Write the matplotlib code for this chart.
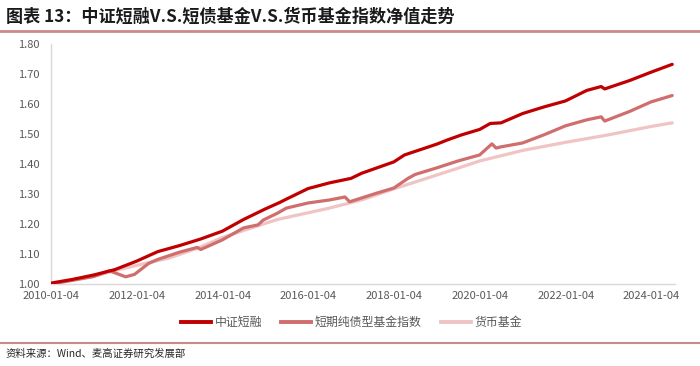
import matplotlib
matplotlib.use("Agg")
import matplotlib.pyplot as plt
import pandas as pd
from matplotlib.lines import Line2D

plt.rcParams['font.family'] = ['Noto Sans CJK SC', 'DejaVu Sans']

# 中证短融
dates_a = ["2010-01-04", "2010-07-01", "2011-01-01", "2011-07-01", "2012-01-01", "2012-07-01",
           "2013-01-01", "2013-07-01", "2014-01-01", "2014-07-01", "2015-01-01", "2015-05-01",
           "2015-07-01", "2016-01-01", "2016-07-01", "2017-01-01", "2017-04-01", "2018-01-01",
           "2018-04-01", "2019-01-01", "2019-04-01", "2019-08-01", "2020-01-01", "2020-04-01",
           "2020-07-01", "2021-01-01", "2021-07-01", "2022-01-01", "2022-07-01", "2022-11-01",
           "2022-12-01", "2023-07-01", "2024-01-01", "2024-06-28"]
vals_a = [1.003, 1.015, 1.030, 1.048, 1.076, 1.108,
          1.128, 1.150, 1.176, 1.215, 1.250, 1.271,
          1.283, 1.318, 1.337, 1.352, 1.369, 1.407,
          1.430, 1.466, 1.480, 1.497, 1.515, 1.535,
          1.537, 1.568, 1.590, 1.610, 1.645, 1.658,
          1.650, 1.678, 1.706, 1.732]

# 短期纯债型基金指数
dates_b = ["2010-01-04", "2010-07-01", "2011-01-01", "2011-05-15", "2011-10-01", "2011-12-15",
           "2012-04-15", "2012-07-01", "2013-01-01", "2013-06-01", "2013-07-01", "2014-01-01",
           "2014-07-01", "2014-11-01", "2014-12-15", "2015-04-15", "2015-07-01", "2016-01-01",
           "2016-07-01", "2016-11-10", "2016-12-20", "2017-08-01", "2018-01-01", "2018-05-01",
           "2018-07-01", "2019-01-01", "2019-07-01", "2020-01-01", "2020-04-15", "2020-05-20",
           "2020-07-01", "2021-01-01", "2021-07-01", "2022-01-01", "2022-07-01", "2022-11-01",
           "2022-12-01", "2023-07-01", "2024-01-01", "2024-06-28"]
vals_b = [1.000, 1.012, 1.025, 1.044, 1.024, 1.032,
          1.069, 1.082, 1.106, 1.122, 1.115, 1.147,
          1.187, 1.197, 1.213, 1.236, 1.253, 1.270,
          1.280, 1.290, 1.274, 1.302, 1.320, 1.352,
          1.365, 1.387, 1.410, 1.430, 1.467, 1.453,
          1.457, 1.470, 1.497, 1.527, 1.547, 1.557,
          1.543, 1.575, 1.607, 1.628]

# 货币基金
dates_c = ["2010-01-04", "2011-01-01", "2011-07-01", "2012-01-01", "2012-10-01", "2013-06-15",
           "2014-01-01", "2015-01-01", "2015-04-15", "2016-06-20", "2017-04-01", "2018-01-01",
           "2019-07-01", "2020-01-01", "2021-01-01", "2022-01-01", "2023-01-01", "2024-01-01",
           "2024-06-28"]
vals_c = [1.003, 1.025, 1.045, 1.062, 1.086, 1.121,
          1.155, 1.202, 1.215, 1.252, 1.280, 1.317,
          1.386, 1.410, 1.445, 1.472, 1.497, 1.525,
          1.537]

tick_labels = ["2010-01-04", "2012-01-04", "2014-01-04", "2016-01-04",
               "2018-01-04", "2020-01-04", "2022-01-04", "2024-01-04"]
names = ["中证短融", "短期纯债型基金指数", "货币基金"]
colors = ["#C00000", "#D06E6E", "#F0C4C4"]

fig = plt.figure(figsize=(7.0, 3.66), dpi=100)
ax = fig.add_axes([0.073, 0.224, 0.891, 0.656])

ax.plot(pd.to_datetime(dates_c), vals_c, color=colors[2], lw=2.3, solid_capstyle='round', zorder=2)
ax.plot(pd.to_datetime(dates_b), vals_b, color=colors[1], lw=2.3, solid_capstyle='round', zorder=3)
ax.plot(pd.to_datetime(dates_a), vals_a, color=colors[0], lw=2.3, solid_capstyle='round', zorder=4)

ax.set_ylim(1.0, 1.8)
ax.set_yticks([1.0 + 0.1 * i for i in range(9)])
ax.set_yticklabels([f"{1.0 + 0.1 * i:.2f}" for i in range(9)])
ax.set_xlim(pd.Timestamp("2010-01-04"), pd.Timestamp("2024-07-20"))
ax.set_xticks(pd.to_datetime(tick_labels))
ax.set_xticklabels(tick_labels)

for s in ["top", "right"]:
    ax.spines[s].set_visible(False)
for s in ["left", "bottom"]:
    ax.spines[s].set_color("#D9D9D9")
    ax.spines[s].set_linewidth(1.0)
ax.tick_params(axis='both', length=0, labelsize=8, colors="#595959")
ax.tick_params(axis='y', pad=8)
ax.tick_params(axis='x', pad=5)

handles = [Line2D([0], [0], color=c, lw=2.8) for c in colors]
fig.legend(handles, names, loc='center', bbox_to_anchor=(0.502, 0.118), ncol=3, frameon=False,
           fontsize=8.6, handlelength=2.5, columnspacing=1.6, handletextpad=0.3,
           labelcolor="#595959")

fig.text(0.008, 0.955, "图表 13：中证短融V.S.短债基金V.S.货币基金指数净值走势", fontsize=12.3,
         fontweight='bold', color="#1A1A1A", va='center', ha='left')
fig.add_artist(Line2D([0.0, 1.0], [0.914, 0.914], color="#C98A8A", lw=2.0, transform=fig.transFigure))
fig.add_artist(Line2D([0.0, 1.0], [0.064, 0.064], color="#C98A8A", lw=1.5, transform=fig.transFigure))
fig.text(0.008, 0.033, "资料来源：Wind、麦高证券研究发展部", fontsize=7.5, color="#262626",
         va='center', ha='left')

fig.savefig("out.png", dpi=100)
